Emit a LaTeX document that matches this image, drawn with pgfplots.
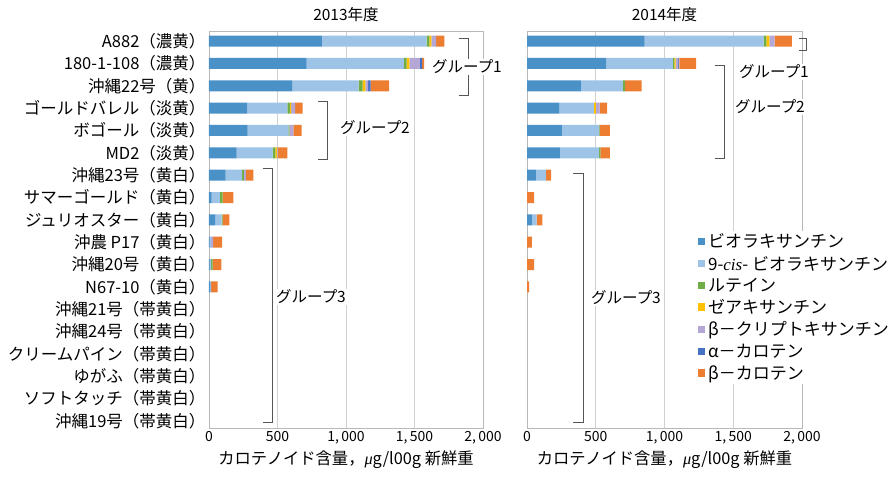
\documentclass[border=0pt]{standalone}
\usepackage{pgfplots}
\pgfplotsset{compat=1.18}
\usepackage{pgfplotstable}
\usepackage{fontspec}
\setmainfont{Noto Sans CJK JP}
\newfontfamily\serifit{Liberation Serif}

\definecolor{cvio}{HTML}{4A91C8}
\definecolor{ccis}{HTML}{9DC3E6}
\definecolor{clut}{HTML}{70AD47}
\definecolor{czea}{HTML}{FFC000}
\definecolor{cbcr}{HTML}{B4A7D6}
\definecolor{cac}{HTML}{4472C4}
\definecolor{cbc}{HTML}{ED7D31}
\definecolor{brk}{HTML}{555555}

\pgfplotstableread{
i vio cis lut zea bcr ac bc
0 823 766 20 14 34 0 61
1 713 710 20 19 78 15 15
2 606 487 29 19 20 19 134
3 280 292 19 8 29 0 56
4 282 297 7 0 29 0 62
5 202 263 19 13 7 0 68
6 122 119 14 0 15 0 54
7 20 60 20 0 0 0 78
8 44 49 7 0 0 0 48
9 5 10 0 0 16 0 64
10 5 10 12 0 0 0 63
11 10 5 0 0 0 0 48
12 0 0 0 0 0 0 0
13 0 0 0 0 0 0 0
14 0 0 0 0 0 0 0
15 0 0 0 0 0 0 0
16 0 0 0 0 0 0 0
17 0 0 0 0 0 0 0
}\dataA

\pgfplotstableread{
i vio cis lut zea bcr ac bc
0 855 866 19 22 38 0 126
1 578 483 10 9 20 9 121
2 392 306 15 0 0 0 121
3 234 252 0 14 29 0 53
4 254 270 5 0 0 0 73
5 239 285 10 0 0 0 68
6 65 73 0 0 0 0 38
7 0 0 0 0 0 0 51
8 36 34 0 0 0 0 41
9 0 0 0 0 0 0 36
10 0 0 0 0 0 0 51
11 0 0 0 0 0 0 15
12 0 0 0 0 0 0 0
13 0 0 0 0 0 0 0
14 0 0 0 0 0 0 0
15 0 0 0 0 0 0 0
16 0 0 0 0 0 0 0
17 0 0 0 0 0 0 0
}\dataB

\pgfplotsset{
  base/.style={
    scale only axis, anchor=north west,
    width=274pt, height=397pt,
    xbar stacked, bar width=11pt,
    y dir=reverse, ymin=-0.45, ymax=17.31,
    xmin=0, xmax=2000,
    xtick={0,500,1000,1500,2000},
    xticklabels={0,500,{1,\,000},{1,\,500},{2,\,000}},
    xmajorgrids, grid style={draw=black!18, line width=0.8pt},
    axis line style={draw=black!28, line width=0.8pt},
    major tick length=0pt,
    font=\fontsize{15.5}{17}\selectfont,
    title style={yshift=0pt, font=\fontsize{15.5}{17}\selectfont},
    xticklabel style={font=\fontsize{14}{16}\selectfont},
    xlabel style={yshift=0pt, font=\fontsize{16.3}{18}\selectfont},
    xlabel={カロテノイド含量，{\serifit\itshape μ}g/l00g 新鮮重},
    legend image code/.code={\fill[##1,draw=none] (0pt,-3.5pt) rectangle (7.5pt,4pt);},
  },
}

\begin{document}
\begin{tikzpicture}
\path (0pt,0pt) rectangle (895pt,-487pt);
\begin{axis}[base, at={(209pt,-31pt)},
  title={2013年度},
  ytick={0,...,17},
  yticklabel style={xshift=0pt, font=\fontsize{16.5}{17}\selectfont},
  yticklabels={A882（濃黄）,180-1-108（濃黄）,沖縄22号（黄）,ゴールドバレル（淡黄）,ボゴール（淡黄）,MD2（淡黄）,沖縄23号（黄白）,サマーゴールド（黄白）,ジュリオスター（黄白）,沖農 P17（黄白）,沖縄20号（黄白）,N67-10（黄白）,沖縄21号（帯黄白）,沖縄24号（帯黄白）,クリームパイン（帯黄白）,ゆがふ（帯黄白）,ソフトタッチ（帯黄白）,沖縄19号（帯黄白）},
]
\addplot[fill=cvio, draw=none] table[x=vio,y=i]{\dataA};
\addplot[fill=ccis, draw=none] table[x=cis,y=i]{\dataA};
\addplot[fill=clut, draw=none] table[x=lut,y=i]{\dataA};
\addplot[fill=czea, draw=none] table[x=zea,y=i]{\dataA};
\addplot[fill=cbcr, draw=none] table[x=bcr,y=i]{\dataA};
\addplot[fill=cac, draw=none] table[x=ac,y=i]{\dataA};
\addplot[fill=cbc, draw=none] table[x=bc,y=i]{\dataA};
\end{axis}
\begin{axis}[base, at={(527pt,-31pt)}, width=275pt,
  title={2014年度},
  ytick=\empty,
  legend cell align=left,
  legend style={at={(0.616,0.497)}, anchor=north west, draw=none, fill=white,
    font=\fontsize{17}{17}\selectfont, row sep=2.6pt, inner sep=1pt,
    nodes={inner xsep=3pt}},
]
\addplot[fill=cvio, draw=none] table[x=vio,y=i]{\dataB};
\addplot[fill=ccis, draw=none] table[x=cis,y=i]{\dataB};
\addplot[fill=clut, draw=none] table[x=lut,y=i]{\dataB};
\addplot[fill=czea, draw=none] table[x=zea,y=i]{\dataB};
\addplot[fill=cbcr, draw=none] table[x=bcr,y=i]{\dataB};
\addplot[fill=cac, draw=none] table[x=ac,y=i]{\dataB};
\addplot[fill=cbc, draw=none] table[x=bc,y=i]{\dataB};
\legend{ビオラキサンチン,9-{\serifit\itshape cis}- ビオラキサンチン,ルテイン,ゼアキサンチン,β－クリプトキサンチン,α－カロテン,β－カロテン}
\end{axis}
% group brackets
\begin{scope}[draw=brk, line width=0.9pt, every node/.style={fill=white, inner sep=1pt, font=\fontsize{15.5}{17}\selectfont}]
\draw (459pt,-38pt) -- (468pt,-38pt) -- (468pt,-95pt) -- (459pt,-95pt);
\node at (467pt,-67pt) {グループ1};
\draw (318pt,-101pt) -- (327pt,-101pt) -- (327pt,-159pt) -- (318pt,-159pt);
\node at (375pt,-128pt) {グループ2};
\draw (263pt,-168pt) -- (272pt,-168pt) -- (272pt,-422pt) -- (263pt,-422pt);
\node at (311pt,-297pt) {グループ3};
\draw (799pt,-38pt) -- (806pt,-38pt) -- (806pt,-50pt) -- (799pt,-50pt);
\node at (774pt,-72pt) {グループ1};
\draw (715pt,-65pt) -- (724pt,-65pt) -- (724pt,-158pt) -- (715pt,-158pt);
\node at (770pt,-107pt) {グループ2};
\draw (573pt,-173pt) -- (583pt,-173pt) -- (583pt,-422pt) -- (573pt,-422pt);
\node at (626pt,-298pt) {グループ3};
\end{scope}
\end{tikzpicture}
\end{document}
